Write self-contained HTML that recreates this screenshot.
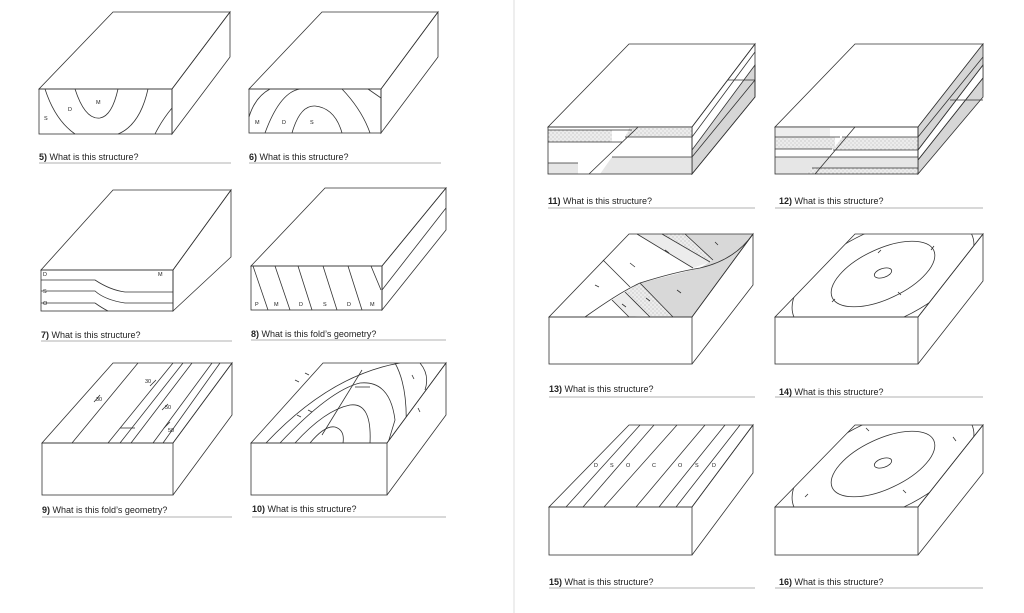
<!DOCTYPE html>
<html><head><meta charset="utf-8"><style>
html,body{margin:0;padding:0;background:#fff;width:1024px;height:613px;overflow:hidden}
svg{display:block}
text{font-family:"Liberation Sans",sans-serif;fill:#222}
.q{font-size:9px}
.l{font-size:5.5px}
</style></head><body>
<svg width="1024" height="613" viewBox="0 0 1024 613" xmlns="http://www.w3.org/2000/svg">
<defs>
<pattern id="st" width="4" height="4" patternUnits="userSpaceOnUse"><rect width="4" height="4" fill="#ececec"/><circle cx="1" cy="1" r="0.5" fill="#999"/><circle cx="3" cy="3" r="0.5" fill="#aaa"/></pattern>
<clipPath id="c14"><polygon points="775,317 918,317 983,234 855,234"/></clipPath>
<clipPath id="c16"><polygon points="775,507 918,507 983,425 855,425"/></clipPath>
<clipPath id="c10"><polygon points="251,443 387,443 446,363 323,363"/></clipPath>
</defs>
<line x1="514" y1="0" x2="514" y2="613" stroke="#ddd" stroke-width="1"/>
<g fill="none" stroke="#333" stroke-width="0.8">
<!-- 5 -->
<polygon points="39,89 172,89 230,12 113,12"/><polygon points="172,89 230,12 230,57 172,134"/><rect x="39" y="89" width="133" height="45"/>
<path d="M45,89 Q55,120 75,134"/><path d="M75,89 Q85,120 100,118 Q112,116 118,89"/><path d="M148,89 Q140,125 118,134"/><path d="M172,108 Q162,120 155,134"/>
<!-- 6 -->
<polygon points="249,89 381,89 438,12 322,12"/><polygon points="381,89 438,12 438,57 381,133"/><rect x="249" y="89" width="132" height="44"/>
<path d="M249,117 Q255,97 270,89"/><path d="M265,133 Q280,92 300,89"/><path d="M342,89 Q362,110 370,133"/><path d="M292,133 Q300,105 315,106 Q335,108 342,133"/><path d="M368,89 L381,98"/>
<!-- 7 -->
<polygon points="41,270 173,270 231,190 113,190"/><polygon points="173,270 231,190 231,257 173,311"/><rect x="41" y="270" width="132" height="41"/>
<path d="M41,280 L95,280 Q110,290 125,292 L173,292"/><path d="M41,291 L95,291 Q105,300 125,303 L173,303"/><path d="M95,303 Q102,308 108,311"/><path d="M41,303 L95,303"/>
<!-- 8 -->
<polygon points="251,266 382,266 446,188 325,188"/><polygon points="382,266 446,188 446,230 382,310"/><rect x="251" y="266" width="131" height="44"/>
<path d="M382,290 L446,208"/>
<path d="M253,266 L268,310 M275,266 L290,310 M298,266 L312,310 M323,266 L337,310 M348,266 L362,310 M371,266 L381,290"/>
<!-- 9 -->
<polygon points="42,443 173,443 232,363 113,363"/><path d="M173,443 L232,363 L232,415 L173,495"/><rect x="42" y="443" width="131" height="52"/>
<path d="M72,443 L138,363 M108,443 L173,363 M120,443 L183,363 M131,443 L192,363 M153,443 L212,363 M163,443 L220,363"/>
<path d="M120,428 L135,428"/><path d="M94,402 L100,395 M150,386 L156,380 M162,410 L168,404 M164,428 L170,422"/>
<!-- 10 -->
<polygon points="251,443 387,443 446,363 323,363"/><path d="M387,443 L446,363 L446,415 L387,495"/><rect x="251" y="443" width="136" height="52"/>
<g clip-path="url(#c10)">
<path d="M266,443 Q330,375 400,363"/><path d="M280,443 Q330,390 360,383 Q390,380 395,420 L388,443"/><path d="M295,443 Q325,410 350,405 Q372,402 370,443"/><path d="M310,443 Q325,425 335,427 Q345,430 343,443"/><path d="M395,363 Q410,390 405,443"/><path d="M420,363 Q430,375 425,390"/>
</g>
<path d="M322,435 L362,370"/><path d="M355,387 L370,387"/>
<path d="M295,380 l4,2 M305,373 l4,2 M297,415 l4,2 M308,410 l4,2 M412,375 l2,4 M418,408 l2,4"/>
<!-- 11 -->
<polygon points="548,127 692,127 755,44 629,44"/>
<polygon points="692,150 755,65 755,97 692,174" fill="#d6d6d6"/>
<polygon points="692,127 755,44 755,97 692,174"/>
<path d="M692,137 L755,52 M692,157 L755,80 M728,80 L755,80"/>
<rect x="548" y="130" width="64" height="12" fill="url(#st)" stroke="none"/>
<rect x="548" y="163" width="30" height="11" fill="#e6e6e6" stroke="none"/>
<polygon points="600,174 612,157 692,157 692,174" fill="#e6e6e6" stroke="none"/>
<polygon points="630,127 692,127 692,137 625,137" fill="url(#st)" stroke="none"/>
<rect x="548" y="127" width="144" height="47"/>
<path d="M548,130 L632,130 M548,142 L622,142 M548,163 L578,163 M625,137 L692,137 M612,157 L692,157"/>
<path d="M638,127 L589,174"/>
<!-- 12 -->
<polygon points="775,127 918,127 983,44 855,44"/>
<polygon points="918,127 983,44 983,97 918,174" fill="#d6d6d6"/>
<polygon points="918,150 983,65 983,78 918,160" fill="#fff"/>
<path d="M918,137 L983,57 M918,150 L983,65 M918,160 L983,78 M950,100 L983,100"/>
<rect x="775" y="137" width="60" height="12" fill="url(#st)" stroke="none"/>
<rect x="775" y="157" width="48" height="17" fill="#e6e6e6" stroke="none"/>
<rect x="775" y="127" width="55" height="10" fill="#eee" stroke="none"/>
<polygon points="842,137 918,137 918,150 833,150" fill="url(#st)" stroke="none"/>
<polygon points="820,157 918,157 918,168 812,168" fill="#e6e6e6" stroke="none"/>
<polygon points="812,168 918,168 918,174 806,174" fill="url(#st)" stroke="none"/>
<rect x="775" y="127" width="143" height="47"/>
<path d="M775,137 L840,137 M775,149 L832,149 M775,157 L825,157 M842,137 L918,137 M833,150 L918,150 M820,157 L918,157 M812,168 L918,168"/>
<path d="M855,127 L815,174"/>
<!-- 13 -->
<polygon points="662,234 685,234 713,260 710,262" fill="url(#st)" stroke="none"/>
<polygon points="637,234 662,234 710,262 693,268" fill="#ececec" stroke="none"/>
<polygon points="685,234 753,234 713,260" fill="#d8d8d8" stroke="none"/>
<polygon points="612,300 625,292 650,315 629,317" fill="#ececec" stroke="none"/>
<polygon points="625,292 640,283 673,317 650,317" fill="url(#st)" stroke="none"/>
<polygon points="640,283 700,268 753,234 692,317 673,317" fill="#d8d8d8" stroke="none"/>
<polygon points="549,317 692,317 753,234 629,234"/><path d="M692,317 L753,234 L753,285 L692,364"/><rect x="549" y="317" width="143" height="47"/>
<path d="M585,317 Q620,292 640,283 Q675,272 700,268 Q735,260 753,234"/>
<path d="M637,234 L693,268 M662,234 L710,262 M685,234 L713,260 M603,260 L630,287 M612,300 L629,317 M625,292 L650,317 M640,283 L673,317"/>
<path d="M595,285 l4,2 M630,263 l5,4 M665,250 l4,3 M715,242 l3,3 M677,290 l4,3 M622,304 l4,3 M646,298 l4,3"/>
<!-- 14 -->
<polygon points="775,317 918,317 983,234 855,234"/><path d="M918,317 L983,234 L983,281 L918,364"/><rect x="775" y="317" width="143" height="47"/>
<g clip-path="url(#c14)"><ellipse cx="883" cy="276" rx="98" ry="46" transform="rotate(-25 883 276)"/></g>
<ellipse cx="883" cy="274" rx="56" ry="25" transform="rotate(-25 883 274)"/>
<ellipse cx="883" cy="273" rx="9" ry="4.5" transform="rotate(-18 883 273)"/>
<path d="M878,253 l3,-3 M931,250 l3,-4 M835,299 l-3,3 M898,292 l3,3"/>
<!-- 15 -->
<polygon points="549,507 692,507 753,425 629,425"/><path d="M692,507 L753,425 L753,473 L692,555"/><rect x="549" y="507" width="143" height="48"/>
<path d="M566,507 L640,425 M583,507 L654,425 M604,507 L677,425 M636,507 L705,425 M659,507 L725,425 M676,507 L740,425"/>
<!-- 16 -->
<polygon points="775,507 918,507 983,425 855,425"/><path d="M918,507 L983,425 L983,473 L918,555"/><rect x="775" y="507" width="143" height="48"/>
<g clip-path="url(#c16)"><ellipse cx="883" cy="466" rx="98" ry="46" transform="rotate(-25 883 466)"/></g>
<ellipse cx="883" cy="464" rx="56" ry="25" transform="rotate(-25 883 464)"/>
<ellipse cx="883" cy="463" rx="9" ry="4.5" transform="rotate(-18 883 463)"/>
<path d="M866,428 l3,3 M953,437 l3,4 M808,494 l-3,3 M903,490 l3,3"/>
</g>
<g stroke="#999" stroke-width="0.8">
<line x1="39" y1="163" x2="231" y2="163"/><line x1="249" y1="163" x2="441" y2="163"/>
<line x1="41" y1="341" x2="232" y2="341"/><line x1="251" y1="340" x2="446" y2="340"/>
<line x1="42" y1="517" x2="232" y2="517"/><line x1="252" y1="517" x2="446" y2="517"/>
<line x1="548" y1="208" x2="755" y2="208"/><line x1="775" y1="208" x2="983" y2="208"/>
<line x1="549" y1="397" x2="755" y2="397"/><line x1="775" y1="397" x2="983" y2="397"/>
<line x1="549" y1="588" x2="755" y2="588"/><line x1="775" y1="588" x2="983" y2="588"/>
</g>
<text class="q" x="39" y="160"><tspan font-weight="bold">5)</tspan> What is this structure?</text>
<text class="q" x="249" y="160"><tspan font-weight="bold">6)</tspan> What is this structure?</text>
<text class="q" x="41" y="338"><tspan font-weight="bold">7)</tspan> What is this structure?</text>
<text class="q" x="251" y="337"><tspan font-weight="bold">8)</tspan> What is this fold’s geometry?</text>
<text class="q" x="42" y="513"><tspan font-weight="bold">9)</tspan> What is this fold’s geometry?</text>
<text class="q" x="252" y="512"><tspan font-weight="bold">10)</tspan> What is this structure?</text>
<text class="q" x="548" y="204"><tspan font-weight="bold">11)</tspan> What is this structure?</text>
<text class="q" x="779" y="204"><tspan font-weight="bold">12)</tspan> What is this structure?</text>
<text class="q" x="549" y="392"><tspan font-weight="bold">13)</tspan> What is this structure?</text>
<text class="q" x="779" y="395"><tspan font-weight="bold">14)</tspan> What is this structure?</text>
<text class="q" x="549" y="585"><tspan font-weight="bold">15)</tspan> What is this structure?</text>
<text class="q" x="779" y="585"><tspan font-weight="bold">16)</tspan> What is this structure?</text>
<g class="l">
<text x="44" y="120">S</text><text x="68" y="111">D</text><text x="96" y="104">M</text>
<text x="255" y="124">M</text><text x="282" y="124">D</text><text x="310" y="124">S</text>
<text x="43" y="276">D</text><text x="43" y="293">S</text><text x="43" y="305">O</text><text x="158" y="276">M</text>
<text x="255" y="306">P</text><text x="274" y="306">M</text><text x="299" y="306">D</text><text x="323" y="306">S</text><text x="347" y="306">D</text><text x="370" y="306">M</text>
<text x="145" y="383">30</text><text x="96" y="401">30</text><text x="165" y="409">50</text><text x="168" y="432">50</text>
<text x="594" y="467">D</text><text x="610" y="467">S</text><text x="626" y="467">O</text><text x="652" y="467">C</text><text x="678" y="467">O</text><text x="695" y="467">S</text><text x="712" y="467">D</text>
</g>
</svg>
</body></html>
